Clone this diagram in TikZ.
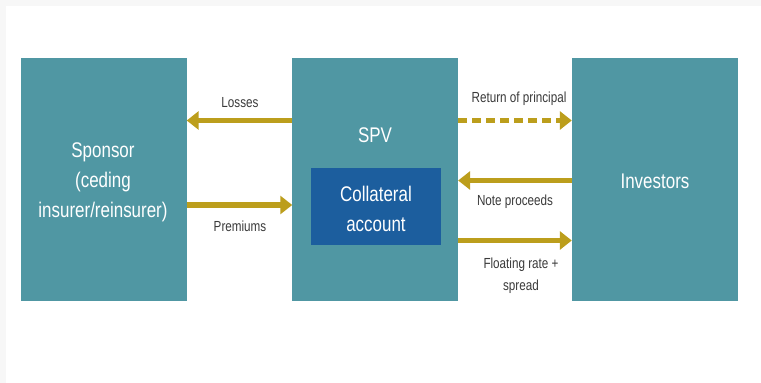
\documentclass[tikz,border=0pt]{standalone}
\usepackage{fontspec}
\setmainfont{Liberation Sans}[FakeStretch=0.8]
\usetikzlibrary{arrows.meta}

\definecolor{boxteal}{RGB}{80,151,163}
\definecolor{vaultblue}{RGB}{28,94,158}
\definecolor{flowgold}{RGB}{188,158,28}
\definecolor{labelgray}{RGB}{58,58,58}
\definecolor{edgegray}{RGB}{247,247,247}

\begin{document}
\begin{tikzpicture}[x=1pt,y=-1pt,
  party/.style={rectangle, fill=boxteal, draw=none,
    minimum width=166pt, minimum height=243pt, inner sep=0pt},
  vault/.style={rectangle, fill=vaultblue, draw=none,
    minimum width=130pt, minimum height=77pt, inner sep=0pt},
  boxtext/.style={text=white, inner sep=0pt, align=center,
    font=\fontsize{21.2}{30}\selectfont},
  flowlabel/.style={text=labelgray, inner sep=0pt, align=center,
    font=\fontsize{14.6}{22}\selectfont},
  flow/.style={draw=flowgold, line width=5.5pt,
    -{Triangle[length=12pt,width=18pt]}},
  dashflow/.style={flow, dash pattern=on 9pt off 5pt}
]
% page with its light grey edge strips
\useasboundingbox (0,0) rectangle (761,383);
\fill[white] (0,0) rectangle (761,383);
\fill[edgegray] (0,0) rectangle (761,6);
\fill[edgegray] (0,0) rectangle (6,383);

% the three parties
\node[party] (sponsor) at (103.5,179.5) {};
\node[party, minimum width=165.5pt] (spv) at (375.2,179.5) {};
\node[party] (investors) at (655,179.5) {};
\node[vault] (collateral) at (376,206.5) {};

% their names
\node[boxtext] (sponsorname) at (103,182) {Sponsor\\(ceding\\insurer/reinsurer)};
\node[boxtext] (spvname) at (375,135) {SPV};
\node[boxtext] (investorsname) at (655,181.5) {Investors};
\node[boxtext] (collateralname) at (376,209) {Collateral\\account};

% rows of the cash flows
\coordinate (rowA) at (0,120.5);
\coordinate (rowB) at (0,180.5);
\coordinate (rowC) at (0,205);
\coordinate (rowD) at (0,240.5);

% sponsor <-> SPV
\draw[flow] (spv.west |- rowA) -- (sponsor.east |- rowA);
\draw[flow] (sponsor.east |- rowC) -- (spv.west |- rowC);
% SPV <-> investors
\draw[dashflow] (spv.east |- rowA) -- (investors.west |- rowA);
\draw[flow] (investors.west |- rowB) -- (spv.east |- rowB);
\draw[flow] (spv.east |- rowD) -- (investors.west |- rowD);

% flow labels
\node[flowlabel] (losses) at (240,103) {Losses};
\node[flowlabel] (premiums) at (240,226.5) {Premiums};
\node[flowlabel] (principal) at (519,99) {Return of principal};
\node[flowlabel] (proceeds) at (515,202) {Note proceeds};
\node[flowlabel] (floating) at (521,275.5) {Floating rate +\\spread};
\end{tikzpicture}
\end{document}
